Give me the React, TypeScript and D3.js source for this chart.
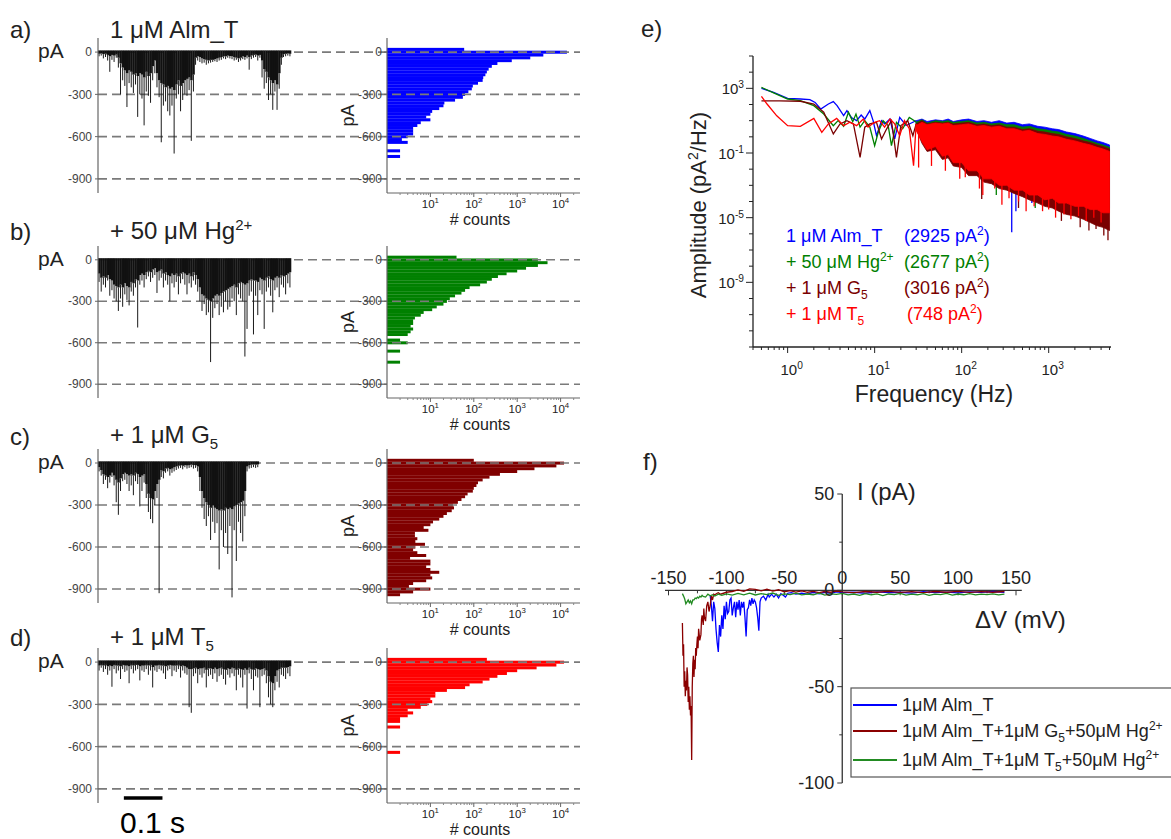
import React from "react";
import * as d3 from "d3";

const FONT = "Arial, 'Liberation Sans', Helvetica, sans-serif";

// ---------- a-d: current traces (pA), one value per 5.56 ms slot ----------
// tip = deepest point in the slot, body = bottom of the dense part
const traceATip = [
  -30, -25, -45, -35, -60, -140, -55, -70, -40, -110,
  -300, -200, -240, -390, -220, -250, -290, -230, -460, -300,
  -330, -520, -280, -310, -360, -200, -150, -250, -320, -640,
  -380, -350, -420, -450, -380, -720, -330, -300, -420, -340,
  -300, -310, -270, -630, -280, -90, -60, -70, -80, -75,
  -90, -80, -75, -70, -65, -70, -60, -55, -45, -50,
  -40, -45, -50, -60, -55, -70, -60, -50, -55, -45,
  -125, -50, -40, -35, -60, -40, -180, -260, -220, -340,
  -300, -410, -280, -410, -260, -90, -35, -30, -25, -30,
];
const traceABody = [
  -12, -10, -15, -12, -20, -30, -20, -25, -18, -40,
  -80, -110, -130, -150, -130, -140, -160, -150, -170, -150,
  -160, -180, -140, -170, -150, -100, -60, -150, -200, -220,
  -230, -250, -240, -260, -250, -270, -230, -200, -240, -220,
  -200, -190, -180, -200, -160, -40, -30, -35, -45, -50,
  -55, -60, -55, -55, -50, -45, -40, -35, -30, -30,
  -25, -28, -30, -35, -40, -45, -40, -30, -35, -25,
  -35, -25, -20, -18, -25, -20, -60, -120, -140, -180,
  -200, -220, -200, -230, -150, -40, -15, -12, -10, -12,
];
const traceBTip = [
  -160, -230, -180, -200, -150, -260, -220, -280, -300, -370,
  -280, -340, -250, -290, -330, -230, -260, -200, -490, -180,
  -150, -200, -140, -120, -160, -130, -110, -240, -150, -130,
  -200, -150, -180, -300, -170, -200, -160, -250, -170, -140,
  -180, -250, -170, -200, -150, -180, -230, -300, -370, -320,
  -400, -380, -740, -420, -350, -320, -400, -340, -380, -300,
  -360, -340, -280, -300, -400, -250, -280, -300, -700, -500,
  -260, -230, -540, -260, -400, -220, -250, -500, -230, -200,
  -260, -380, -220, -200, -270, -180, -200, -250, -170, -200,
];
const traceBBody = [
  -100, -130, -120, -130, -110, -140, -150, -180, -190, -200,
  -180, -200, -170, -190, -200, -160, -170, -140, -150, -110,
  -100, -110, -90, -80, -90, -70, -60, -90, -80, -70,
  -100, -90, -110, -120, -100, -110, -100, -120, -100, -90,
  -100, -110, -100, -120, -90, -110, -140, -200, -250, -260,
  -280, -290, -300, -280, -260, -250, -260, -240, -230, -220,
  -210, -200, -190, -180, -200, -170, -160, -170, -180, -170,
  -150, -140, -150, -150, -160, -130, -140, -150, -130, -120,
  -140, -150, -130, -120, -130, -110, -120, -110, -100, -90,
];
const traceCTip = [
  -60, -90, -150, -120, -180, -140, -100, -160, -280, -370,
  -200, -130, -120, -150, -200, -160, -230, -130, -150, -310,
  -200, -140, -250, -350, -400, -430, -300, -250, -930, -100,
  -110, -70, -60, -90, -70, -60, -50, -40, -35, -45,
  -30, -40, -35, -30, -40, -35, -60, -200, -320, -400,
  -450, -380, -550, -420, -500, -430, -760, -480, -600, -500,
  -650, -450, -960, -480, -700, -420, -500, -560, -380, -60,
  -40, -35, -30, -35, -30,
];
const traceCBody = [
  -30, -50, -80, -90, -100, -90, -70, -90, -120, -140,
  -110, -80, -70, -80, -90, -80, -90, -70, -80, -100,
  -90, -80, -150, -220, -250, -260, -200, -150, -120, -50,
  -60, -40, -35, -45, -40, -30, -25, -20, -15, -20,
  -15, -18, -15, -12, -15, -15, -25, -100, -200, -250,
  -280, -300, -320, -300, -320, -330, -340, -330, -340, -320,
  -330, -320, -330, -310, -300, -290, -280, -270, -200, -25,
  -15, -12, -10, -12, -10,
];
const traceDTip = [
  -60, -40, -70, -50, -90, -60, -175, -50, -80, -60,
  -120, -50, -70, -60, -150, -50, -80, -60, -50, -130,
  -60, -70, -50, -90, -60, -180, -60, -70, -50, -60,
  -80, -120, -60, -50, -100, -60, -70, -50, -110, -60,
  -80, -90, -320, -360, -100, -80, -150, -90, -110, -80,
  -180, -100, -90, -120, -80, -140, -100, -90, -120, -160,
  -90, -110, -80, -100, -200, -90, -110, -180, -90, -330,
  -80, -120, -200, -100, -110, -320, -100, -90, -150, -250,
  -300, -320, -200, -140, -180, -90, -100, -120, -80, -100,
];
const traceDBody = [
  -25, -20, -25, -20, -30, -25, -30, -20, -25, -25,
  -30, -20, -25, -25, -30, -20, -25, -20, -20, -30,
  -25, -25, -20, -25, -20, -35, -25, -25, -20, -25,
  -25, -30, -25, -20, -25, -25, -25, -20, -30, -25,
  -30, -40, -50, -50, -45, -40, -50, -45, -45, -40,
  -55, -45, -45, -50, -40, -50, -45, -40, -50, -55,
  -45, -50, -40, -45, -55, -45, -50, -55, -45, -55,
  -40, -50, -55, -45, -50, -55, -50, -45, -60, -100,
  -140, -150, -100, -60, -50, -40, -40, -40, -35, -30,
];

// ---------- a-d: amplitude histograms, counts per 20 pA bin (+20 ... -940) ----------
const histBins = d3.range(20, -941, -20);
const histA = [60, 14000, 4000, 2000, 750, 350, 260, 220, 200, 185, 165, 160, 125, 95, 90, 75, 63, 56, 37, 21,
  20, 16, 11, 10, 8, 10, 6, 5, 4, 4, 4, 3, 2.2, 3, 0, 0, 2, 0, 2, 0, 0, 0, 0, 0, 0, 0, 0, 0, 0];
const histB = [40, 3000, 5000, 3000, 1600, 1000, 570, 360, 260, 200, 140, 80, 63, 52, 37, 28, 24, 20, 14, 11,
  7, 6, 4.4, 4, 4, 3.5, 4, 3.5, 3, 0, 2, 3, 0, 0, 2, 0, 0, 0, 2, 0, 0, 0, 0, 0, 0, 0, 0, 0, 0];
const histC = [100, 12000, 8000, 2500, 1000, 400, 230, 160, 125, 115, 100, 95, 72, 63, 52, 43, 33, 35, 31, 24,
  20, 16, 11.5, 10, 7, 9, 4.4, 4.4, 5, 4.5, 7.5, 4.5, 4, 5, 8, 3.4, 10, 10, 8, 10, 16, 10, 11, 8, 4, 3.2, 10, 4, 2];
const histD = [200, 12000, 8000, 2800, 1000, 580, 350, 230, 160, 80, 63, 24, 13, 13, 10, 11, 8.5, 6, 3, 4,
  3, 2, 2, 0, 2, 0, 0, 0, 0, 0, 0, 0, 0, 2, 0, 0, 0, 0, 0, 0, 0, 0, 0, 0, 0, 0, 0, 0, 0];

const pATicks = [0, -300, -600, -900];
const countTicks = [1, 2, 3, 4]; // exponents of 10

// ---------- e: power spectra, [Hz, log10 amplitude] ----------
const psdLowBlue = [[0.5, 3.0], [0.69, 2.75], [1.0, 2.38], [1.4, 2.34], [1.8, 2.3], [2.07, 2.13], [2.4, 1.72], [2.94, 2.03],
  [3.35, 2.18], [3.7, 1.93], [4.4, 1.31], [4.8, 1.62], [5.4, 1.2], [6.2, 1.0], [7.0, 1.35], [7.7, 1.1], [8.8, 1.62], [9.6, 1.0],
  [10.5, 0.07], [12, 1.0], [13, 0.8], [15, 1.1], [17, -0.13], [19.4, 1.2], [23, 0.7], [27.5, 0.9], [30, 1.0]];
const psdLowGreen = [[0.5, 3.06], [0.7, 2.7], [1.0, 2.34], [1.4, 2.24], [2.0, 1.93], [2.6, 1.41], [3.35, 0.69], [3.8, 1.0],
  [4.4, 0.65], [5.0, 1.52], [5.6, 0.94], [6.1, 1.41], [6.8, 0.6], [7.7, 1.0], [8.8, 0.6], [10, -0.55], [11, 0.28], [12.5, 1.0],
  [14.3, 0.7], [15.6, -0.55], [17.8, 0.9], [21, 0.5], [25, 1.2], [28.6, 1.0], [30, 0.9]];
const psdLowDarkRed = [[0.5, 2.22], [0.8, 2.22], [1.4, 2.2], [2.0, 2.03], [2.6, 1.52], [3.35, 0.18], [4.0, 0.8], [4.8, 1.0],
  [5.7, 0.8], [6.8, -1.27], [7.7, 0.6], [8.8, 0.8], [10.5, 0.9], [12, -0.13], [13.7, 0.48], [15.6, 1.0], [17.8, -1.27],
  [20, 0.7], [24, 1.0], [27.5, 0.07], [30, 0.8]];
const psdLowRed = [[0.5, 2.5], [0.58, 2.03], [0.75, 1.3], [1.0, 0.69], [1.4, 0.65], [2.0, 1.14], [2.47, 0.28], [2.94, 0.8],
  [3.66, 1.14], [4.4, 0.69], [5.2, 0.9], [6.2, 0.69], [7.4, 1.1], [8.4, 0.6], [10, 0.9], [11.4, 1.0], [13, 0.6], [15, 1.1],
  [17, 0.8], [19.4, 0.07], [22, 1.0], [25, 0.5], [28, -1.78], [30, 0.8]];

// dense part of the spectra: upper / lower envelope (log10) on a shared frequency grid
const bandFreq = [30, 35, 40, 50, 60, 70, 80, 100, 120, 150, 180, 220, 270, 330, 400, 500, 600, 750, 900, 1100, 1300,
  1600, 2000, 2500, 3000, 3600, 4200, 5000];
const bandHiBlue = [1.0, 1.1, 0.95, 1.05, 1.0, 1.1, 0.95, 1.05, 1.1, 0.95, 1.0, 0.9, 1.0, 0.85, 0.9, 0.75, 0.8, 0.65, 0.6,
  0.5, 0.45, 0.3, 0.2, 0.05, -0.1, -0.25, -0.35, -0.5];
const bandLoBlue = [0.8, 0.2, -0.5, -0.3, -0.9, -0.8, -1.3, -1.3, -1.8, -1.8, -2.2, -2.3, -2.6, -2.7, -2.9, -3.0, -3.2,
  -3.3, -3.5, -3.5, -3.7, -3.8, -3.9, -4.0, -4.1, -4.2, -4.3, -4.4];
const bandHiGreen = [0.9, 1.05, 0.85, 1.0, 0.95, 1.0, 0.9, 0.95, 1.0, 0.85, 0.9, 0.8, 0.85, 0.75, 0.75, 0.6, 0.65, 0.5, 0.45,
  0.35, 0.3, 0.15, 0.05, -0.1, -0.25, -0.4, -0.5, -0.65];
const bandLoGreen = [0.7, 0.0, -0.6, -0.4, -1.0, -0.9, -1.4, -1.4, -1.9, -1.9, -2.3, -2.4, -2.7, -2.8, -3.0, -3.1, -3.3,
  -3.4, -3.6, -3.6, -3.8, -3.9, -4.0, -4.1, -4.2, -4.3, -4.4, -4.5];
const bandHiDarkRed = [0.8, 1.0, 0.8, 0.9, 0.85, 0.9, 0.8, 0.85, 0.9, 0.75, 0.8, 0.7, 0.75, 0.6, 0.6, 0.45, 0.5, 0.35, 0.3,
  0.2, 0.15, 0.0, -0.1, -0.25, -0.35, -0.5, -0.6, -0.75];
const bandLoDarkRed = [0.5, -0.4, -0.9, -0.8, -1.4, -1.3, -1.8, -1.9, -2.4, -2.4, -2.8, -2.9, -3.2, -3.3, -3.5, -3.7, -3.9,
  -4.1, -4.3, -4.4, -4.6, -4.8, -4.9, -5.1, -5.3, -5.5, -5.6, -5.8];
const bandHiRed = [0.7, 0.9, 0.75, 0.85, 0.8, 0.85, 0.7, 0.75, 0.8, 0.65, 0.7, 0.6, 0.65, 0.5, 0.5, 0.35, 0.4, 0.2, 0.15,
  0.05, 0.0, -0.15, -0.25, -0.4, -0.5, -0.65, -0.75, -0.9];
const bandLoRed = [0.4, -0.3, -0.8, -0.6, -1.2, -1.1, -1.6, -1.6, -2.1, -2.1, -2.6, -2.6, -3.0, -3.0, -3.3, -3.3, -3.6,
  -3.6, -3.9, -3.8, -4.1, -4.1, -4.3, -4.3, -4.5, -4.5, -4.7, -4.7];

// single deep minima below the envelope [Hz, log10 amplitude]
const dipsBlue = [[376, -5.9], [420, -4.6], [640, -4.1], [1700, -4.6]];
const dipsGreen = [[250, -3.6], [700, -4.4], [1500, -4.7], [2600, -4.8]];
const dipsDarkRed = [[170, -3.85], [450, -4.4], [1400, -5.2], [2300, -5.6], [2900, -5.8], [3500, -5.7], [4300, -6.1], [4800, -6.4]];
const dipsRed = [[32, -1.9], [45, -1.8], [65, -2.1], [95, -2.6], [110, -2.5], [160, -3.2], [175, -3.6], [240, -3.2],
  [290, -4.2], [350, -3.8], [450, -4.0], [550, -4.6], [680, -4.3], [850, -4.6], [1000, -4.5], [1200, -5.0], [1500, -4.8],
  [1800, -5.1], [2200, -4.9], [2700, -5.2], [3300, -5.0], [4000, -5.3]];

const psdYLabels = [3, -1, -5, -9];

// ---------- f: I-V ramps, [mV, pA] ----------
const ivBlue = [[-114, -2.6], [-113, -8], [-112, -16], [-111, -6], [-110, -9.5], [-109, -20], [-108, -27], [-107, -32],
  [-106, -18], [-105, -24], [-104, -13], [-103, -20], [-102, -8], [-101, -15], [-100, -6], [-99, -12], [-98, -11], [-97, -5],
  [-96, -4], [-95, -13], [-94, -9], [-93, -6], [-92, -14], [-91, -6], [-90, -10], [-89, -5], [-88, -13], [-87, -6], [-86, -9],
  [-85, -6], [-84, -14], [-83, -24], [-82, -10], [-81, -9], [-80, -5], [-79, -8], [-78, -4], [-77, -7], [-76, -5], [-75, -6],
  [-74, -9], [-73, -14], [-72, -21], [-71, -6], [-70, -4], [-68, -3], [-66, -5], [-64, -2], [-63, -3.5], [-61, -2],
  [-59, -3.5], [-57, -2], [-55, -4], [-53, -1.7], [-51, -2.5], [-49, -3.5], [-47, -1.5], [-44, -1.2], [-40, -2], [-35, -1.5],
  [-30, -2], [-25, -1], [-20, -1.8], [-15, -1], [-10, -1.5], [-5, -0.8], [0, -1.2], [10, -1], [20, -1.5], [30, -0.8],
  [40, -1.2], [50, -1], [60, -1.4], [70, -0.7], [80, -1.2], [90, -0.9], [100, -1.3], [110, -0.8], [120, -1.1], [130, -0.6],
  [140, -1]];
const ivDarkRed = [[-138, -17], [-137.5, -34], [-137, -28], [-136.5, -50], [-136, -42], [-135.5, -55], [-135, -47],
  [-134.5, -52], [-134, -40], [-133.5, -44], [-133, -58], [-132.5, -50], [-132, -62], [-131.5, -55], [-131, -65],
  [-130.5, -60], [-130, -88], [-129.5, -50], [-129, -38], [-128.5, -34], [-128, -45], [-127.5, -36], [-127, -41],
  [-126.5, -30], [-126, -34], [-125.5, -28], [-125, -24], [-124.5, -30], [-124, -20], [-123, -26], [-122, -23],
  [-121.5, -15], [-121, -13], [-120, -18], [-119.5, -9.5], [-119, -14], [-118, -16], [-117, -8], [-116, -6], [-115, -11],
  [-114, -8], [-113, -3], [-112, -5], [-111, -2], [-110, -2.3], [-108, -1.5], [-107, -1.2], [-105, -2], [-100, -1],
  [-95, -0.6], [-90, 0.2], [-85, -0.5], [-80, 0.8], [-75, 0.5], [-70, -0.3], [-65, 0.6], [-60, -0.4], [-55, 0.3],
  [-50, -0.8], [-45, -0.2], [-40, -0.9], [-35, -0.3], [-30, -1], [-25, -0.5], [-20, -1.2], [-15, -0.6], [-10, -1],
  [-5, -0.4], [0, -0.8], [10, -1.2], [20, -0.6], [30, -1], [40, -0.5], [50, -1.1], [60, -0.7], [70, -1.2], [80, -0.6],
  [90, -1], [100, -0.5], [110, -1.1], [120, -0.7], [130, -1], [140, -0.6]];
const ivGreen = [[-138, -1.7], [-137, -3], [-136, -4.5], [-135, -7], [-134, -6], [-133, -5], [-132, -6.5], [-131, -5.5],
  [-130, -7], [-129, -5], [-128, -5], [-127, -4], [-126, -4.3], [-125, -3.5], [-124, -4], [-123, -3], [-122, -3.5],
  [-121, -2.6], [-120, -3.2], [-118, -3.5], [-116, -2], [-114, -2.8], [-112, -2.3], [-110, -3], [-107, -2], [-104, -2.6],
  [-100, -1.8], [-95, -2.5], [-90, -1.6], [-85, -2.3], [-80, -1.5], [-75, -2.4], [-70, -1.7], [-65, -2.2], [-60, -1.4],
  [-55, -2.6], [-50, -1.8], [-45, -2.2], [-40, -1.5], [-35, -2.4], [-30, -1.9], [-25, -2.3], [-20, -1.5], [-15, -2.5],
  [-10, -1.8], [-5, -2.1], [0, -1.6], [5, -2.4], [10, -1.9], [15, -2.6], [20, -1.7], [25, -2.3], [30, -1.8], [35, -2.7],
  [40, -1.9], [45, -2.2], [50, -1.6], [55, -2.5], [60, -2], [65, -2.3], [70, -1.7], [75, -2.6], [80, -2], [85, -2.2],
  [90, -1.6], [95, -2.5], [100, -1.9], [105, -2.3], [110, -1.7], [115, -2.4], [120, -2], [125, -2.2], [130, -1.8],
  [135, -2.4], [140, -2]];

const ivXTicks = [-150, -100, -50, 0, 50, 100, 150];
const ivYTicks = [50, 0, -50, -100];

// ---------- layout ----------
const SLOT = 0.5 / 90; // seconds per trace slot
const noiseCeiling = 12; // pA
const rows = [
  { letter: "a)", title: "1 μM Alm_T", script: "", kind: "", top: 38, bottom: 193, letterY: 38, titleY: 38,
    tip: traceATip, body: traceABody, hist: histA, color: "#0000ff" },
  { letter: "b)", title: "+ 50 μM Hg", script: "2+", kind: "sup", top: 246, bottom: 398, letterY: 240, titleY: 239,
    tip: traceBTip, body: traceBBody, hist: histB, color: "#008000" },
  { letter: "c)", title: "+ 1 μM G", script: "5", kind: "sub", top: 449, bottom: 603, letterY: 445, titleY: 443,
    tip: traceCTip, body: traceCBody, hist: histC, color: "#800000" },
  { letter: "d)", title: "+ 1 μM T", script: "5", kind: "sub", top: 648, bottom: 803, letterY: 646, titleY: 645,
    tip: traceDTip, body: traceDBody, hist: histD, color: "#ff0000" },
];

function Pow10({ x, y, e, size, anchor = "middle" }) {
  return (
    <text x={x} y={y} fontSize={size} textAnchor={anchor} fill="#222">
      10<tspan dy={-size * 0.4} fontSize={size * 0.68}>{e}</tspan>
    </text>
  );
}

function TraceRow({ row, scaleBar }) {
  const y = d3.scaleLinear().domain([100, -1000]).range([row.top, row.bottom]);
  const t = d3.scaleLinear().domain([0, 0.5]).range([98, 291]);
  const hx = d3.scaleLog().domain([1, 28000]).range([387, 580]);
  const w = t(SLOT) - t(0);
  const minor = hx.ticks().filter((v) => Math.abs(Math.log10(v) % 1) > 1e-6);
  const scriptDy = row.kind === "sup" ? -9 : 6;
  return (
    <g>
      {/* histogram */}
      {row.hist.map((c, i) =>
        c >= 1 ? (
          <rect key={"h" + i} x={hx(1)} y={y(histBins[i] + 10)} width={hx(c) - hx(1)}
            height={y(histBins[i] - 10) - y(histBins[i] + 10) + 0.2} fill={row.color} />
        ) : null
      )}
      {/* dashed guides */}
      {pATicks.map((v) => (
        <line key={"d" + v} x1={98} x2={580} y1={y(v)} y2={y(v)} stroke="#7a7a7a" strokeWidth={1.6} strokeDasharray="9,5" />
      ))}
      {/* trace */}
      {row.body.map((b, i) => (
        <rect key={"b" + i} x={t(i * SLOT)} y={y(noiseCeiling)} width={w + 0.3} height={y(b) - y(noiseCeiling)} fill="#111" />
      ))}
      {row.tip.map((v, i) => (
        <line key={"s" + i} x1={t((i + 0.5) * SLOT)} x2={t((i + 0.5) * SLOT)} y1={y(row.body[i])} y2={y(v)}
          stroke="#1a1a1a" strokeWidth={1} />
      ))}
      {/* trace axis */}
      <line x1={98} x2={98} y1={row.top} y2={row.bottom} stroke="#666" strokeWidth={1.2} />
      {pATicks.map((v) => (
        <g key={"t" + v}>
          <line x1={95} x2={98} y1={y(v)} y2={y(v)} stroke="#666" />
          <text x={92} y={y(v)} dy="0.35em" fontSize={12} textAnchor="end" fill="#444">{v}</text>
        </g>
      ))}
      {/* histogram axes */}
      <line x1={387} x2={387} y1={row.top} y2={row.bottom} stroke="#666" strokeWidth={1.2} />
      <line x1={387} x2={580} y1={row.bottom} y2={row.bottom} stroke="#666" strokeWidth={1.2} />
      {pATicks.map((v) => (
        <g key={"ht" + v}>
          <line x1={384} x2={387} y1={y(v)} y2={y(v)} stroke="#666" />
          <text x={382} y={y(v)} dy="0.35em" fontSize={12} textAnchor="end" fill="#444">{v}</text>
        </g>
      ))}
      {minor.map((v, i) => (
        <line key={"m" + i} x1={hx(v)} x2={hx(v)} y1={row.bottom} y2={row.bottom + 2} stroke="#888" />
      ))}
      {countTicks.map((e) => (
        <g key={"c" + e}>
          <line x1={hx(10 ** e)} x2={hx(10 ** e)} y1={row.bottom} y2={row.bottom + 4} stroke="#666" />
          <Pow10 x={hx(10 ** e)} y={row.bottom + 15} e={e} size={11.5} />
        </g>
      ))}
      <text x={480} y={row.bottom + 32} fontSize={16} textAnchor="middle" fill="#222"># counts</text>
      <text transform={`translate(354,${y(-450)}) rotate(-90)`} fontSize={18} textAnchor="middle" fill="#222">pA</text>
      {/* labels */}
      <text x={10} y={row.letterY} fontSize={24} fill="#222">{row.letter}</text>
      <text x={110} y={row.titleY} fontSize={24} fill="#222">
        {row.title}
        {row.script ? (
          <tspan dy={scriptDy} fontSize={15}>{row.script}</tspan>
        ) : null}
      </text>
      <text x={38} y={y(0) + 6} fontSize={21} fill="#222">pA</text>
      {scaleBar ? (
        <g>
          <line x1={t(0.067)} x2={t(0.167)} y1={798} y2={798} stroke="#000" strokeWidth={3.5} />
          <text x={120} y={833} fontSize={30} fill="#000">0.1 s</text>
        </g>
      ) : null}
    </g>
  );
}

function PsdPanel() {
  const fx = d3.scaleLog().domain([0.4, 5200]).range([753, 1111]);
  const ay = d3.scaleLog().domain([1e-13, 1e5]).range([347, 56]);
  const lineGen = d3.line().x((d) => fx(d[0])).y((d) => ay(10 ** d[1]));
  const series = [
    { color: "#0000ff", low: psdLowBlue, hi: bandHiBlue, lo: bandLoBlue, dips: dipsBlue },
    { color: "#008000", low: psdLowGreen, hi: bandHiGreen, lo: bandLoGreen, dips: dipsGreen },
    { color: "#7a0000", low: psdLowDarkRed, hi: bandHiDarkRed, lo: bandLoDarkRed, dips: dipsDarkRed },
    { color: "#ff0000", low: psdLowRed, hi: bandHiRed, lo: bandLoRed, dips: dipsRed },
  ];
  const logF = bandFreq.map((f) => Math.log10(f));
  const xTicks = fx.ticks();
  const decades = d3.range(-13, 6);
  return (
    <g>
      <text x={641} y={37} fontSize={24} fill="#222">e)</text>
      {series.map((s, k) => {
        const area = d3.area()
          .x((f) => fx(f))
          .y0((f, i) => ay(10 ** s.lo[i]))
          .y1((f, i) => ay(10 ** s.hi[i]));
        const loAt = d3.scaleLinear().domain(logF).range(s.lo).clamp(true);
        return (
          <g key={k}>
            <path d={lineGen(s.low)} fill="none" stroke={s.color} strokeWidth={1.3} />
            <path d={area(bandFreq)} fill={s.color} stroke={s.color} strokeWidth={0.8} />
            {s.dips.map((d, i) => (
              <line key={i} x1={fx(d[0])} x2={fx(d[0])} y1={ay(10 ** (loAt(Math.log10(d[0])) + 0.3))} y2={ay(10 ** d[1])}
                stroke={s.color} strokeWidth={1.3} />
            ))}
          </g>
        );
      })}
      {/* axes */}
      <line x1={753} x2={753} y1={56} y2={347} stroke="#222" strokeWidth={1.3} />
      <line x1={753} x2={1111} y1={347} y2={347} stroke="#222" strokeWidth={1.3} />
      {decades.map((e) => (
        <line key={"yt" + e} x1={psdYLabels.includes(e) ? 746 : 749} x2={753} y1={ay(10 ** e)} y2={ay(10 ** e)} stroke="#222" />
      ))}
      {psdYLabels.map((e) => (
        <Pow10 key={"yl" + e} x={744} y={ay(10 ** e) + 6} e={e} size={15} anchor="end" />
      ))}
      {xTicks.map((v, i) => {
        const major = Math.abs(Math.log10(v) % 1) < 1e-6;
        return <line key={"xt" + i} x1={fx(v)} x2={fx(v)} y1={347} y2={347 + (major ? 6 : 3)} stroke="#222" />;
      })}
      {[0, 1, 2, 3].map((e) => (
        <Pow10 key={"xl" + e} x={fx(10 ** e) + 4} y={375} e={e} size={15} />
      ))}
      <text x={934} y={402} fontSize={23} textAnchor="middle" fill="#222">Frequency (Hz)</text>
      <text transform="translate(706,205) rotate(-90)" fontSize={22} textAnchor="middle" fill="#222">
        Amplitude (pA<tspan dy={-8} fontSize={14}>2</tspan><tspan dy={8}>/Hz)</tspan>
      </text>
      {/* in-plot legend */}
      {[
        { c: "#0000ff", a: "1 μM Alm_T", s: "", k: "", v: "(2925 pA" },
        { c: "#008000", a: "+ 50 μM Hg", s: "2+", k: "sup", v: "(2677 pA" },
        { c: "#7a0000", a: "+ 1 μM G", s: "5", k: "sub", v: "(3016 pA" },
        { c: "#ff0000", a: "+ 1 μM T", s: "5", k: "sub", v: "(748 pA" },
      ].map((l, i) => (
        <g key={"lg" + i} fill={l.c}>
          <text x={786} y={242 + i * 26} fontSize={18}>
            {l.a}
            {l.s ? <tspan dy={l.k === "sup" ? -7 : 5} fontSize={12}>{l.s}</tspan> : null}
          </text>
          <text x={i === 3 ? 907 : 904} y={242 + i * 26} fontSize={18}>
            {l.v}<tspan dy={-7} fontSize={12}>2</tspan><tspan dy={7}>)</tspan>
          </text>
        </g>
      ))}
    </g>
  );
}

function IvPanel() {
  const vx = d3.scaleLinear().domain([-150, 150]).range([668.5, 1016]);
  const iy = d3.scaleLinear().domain([-100, 50]).range([783, 494]);
  const lineGen = d3.line().x((d) => vx(d[0])).y((d) => iy(d[1]));
  const series = [
    { color: "#0000ff", data: ivBlue, label: "1μM Alm_T", sub: "", tail: "" },
    { color: "#8b0000", data: ivDarkRed, label: "1μM Alm_T+1μM G", sub: "5", tail: "+50μM Hg" },
    { color: "#228b22", data: ivGreen, label: "1μM Alm_T+1μM T", sub: "5", tail: "+50μM Hg" },
  ];
  const legendY = [705, 731, 760];
  return (
    <g>
      <text x={643} y={470} fontSize={24} fill="#222">f)</text>
      {/* axes */}
      <line x1={vx(-153)} x2={vx(155)} y1={iy(0)} y2={iy(0)} stroke="#333" strokeWidth={1.3} />
      <line x1={vx(0)} x2={vx(0)} y1={iy(-100)} y2={iy(50)} stroke="#333" strokeWidth={1.3} />
      {d3.range(-150, 151, 25).map((v) => (
        <line key={"xt" + v} x1={vx(v)} x2={vx(v)} y1={iy(0)} y2={iy(0) + (v % 50 === 0 ? 5 : 3)} stroke="#333" />
      ))}
      {d3.range(-100, 51, 25).map((v) => (
        <line key={"yt" + v} x1={vx(0) - (v % 50 === 0 ? 5 : 3)} x2={vx(0)} y1={iy(v)} y2={iy(v)} stroke="#333" />
      ))}
      {series.map((s, i) => (
        <path key={i} d={lineGen(s.data)} fill="none" stroke={s.color} strokeWidth={1.3} />
      ))}
      {ivXTicks.map((v) => (
        <text key={"xl" + v} x={vx(v)} y={iy(0) - 6} fontSize={18} textAnchor="middle" fill="#222">{v}</text>
      ))}
      {ivYTicks.map((v) => (
        <text key={"yl" + v} x={vx(0) - 8} y={iy(v) + 6} fontSize={18} textAnchor="end" fill="#222">{v}</text>
      ))}
      <text x={857} y={500} fontSize={24} fill="#222">I (pA)</text>
      <text x={975} y={628} fontSize={24} fill="#222">ΔV (mV)</text>
      {/* legend */}
      <rect x={851} y={688} width={400} height={89} fill="#fff" stroke="#555" strokeWidth={1.2} />
      {series.map((s, i) => (
        <g key={"lg" + i}>
          <line x1={853} x2={897} y1={legendY[i]} y2={legendY[i]} stroke={s.color} strokeWidth={2} />
          <text x={902} y={legendY[i] + 6} fontSize={18} fill="#222">
            {s.label}
            {s.sub ? <tspan dy={5} fontSize={12}>{s.sub}</tspan> : null}
            {s.tail ? <tspan dy={-5}>{s.tail}</tspan> : null}
            {s.tail ? <tspan dy={-7} fontSize={12}>2+</tspan> : null}
          </text>
        </g>
      ))}
    </g>
  );
}

export default function App() {
  return (
    <svg width={1171} height={839} viewBox="0 0 1171 839"
      style={{ position: "absolute", left: 0, top: 0, background: "#fff", fontFamily: FONT }}>
      <rect width={1171} height={839} fill="#fff" />
      {rows.map((r, i) => (
        <TraceRow key={i} row={r} scaleBar={i === 3} />
      ))}
      <PsdPanel />
      <IvPanel />
    </svg>
  );
}
